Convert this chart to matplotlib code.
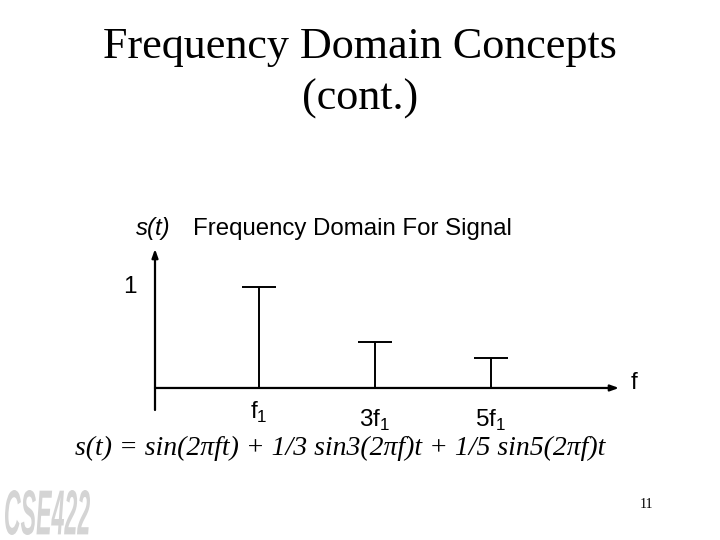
import numpy as np
import matplotlib
matplotlib.use('Agg')
import matplotlib.pyplot as plt
from matplotlib.textpath import TextPath
from matplotlib.patches import PathPatch
from matplotlib.font_manager import FontProperties
from matplotlib.transforms import Affine2D

# Données du spectre
freqs = [1, 3, 5]
amps = [1.0, 0.46, 0.30]
freq_labels = [r'f$_\mathregular{1}$', r'3f$_\mathregular{1}$', r'5f$_\mathregular{1}$']
label_offsets = [-0.24, -0.32, -0.32]

W, H = 720, 540
fig = plt.figure(figsize=(7.2, 5.4), dpi=100)

# Axe du spectre, placé en pixels
x_left, x_right = 155, 619
y_top, y_bot = 249, 410
ax = fig.add_axes([x_left / W, 1 - y_bot / H, (x_right - x_left) / W, (y_bot - y_top) / H])
x0, x1 = -0.793, 1 + (x_right - 259) / 58
y0, y1 = -0.218, 1.376
ax.set_xlim(x0, x1)
ax.set_ylim(y0, y1)
ax.axis('off')

sans = 'Liberation Sans'
serif = 'Liberation Serif'

# Flèches des axes
arrow = dict(arrowstyle='-|>,head_length=0.5,head_width=0.18', color='black', lw=1.6,
             shrinkA=0, shrinkB=0)
ax.annotate('', xy=(x0, y1), xytext=(x0, y0), arrowprops=arrow, annotation_clip=False)
ax.annotate('', xy=(x1, 0), xytext=(x0, 0), arrowprops=arrow, annotation_clip=False)

# Raies
ax.vlines(freqs, 0, amps, color='black', lw=1.4)
ax.hlines(amps, np.array(freqs) - 0.3, np.array(freqs) + 0.3, color='black', lw=1.4)

for f, lab, off in zip(freqs, freq_labels, label_offsets):
    ax.text(f, off, lab, ha='center', va='center', fontsize=17.5, family=sans)
ax.text(x0 - 0.43, 1.0, '1', ha='center', va='center', fontsize=17.5, family=sans)
ax.text(x1 + 0.2, 0.05, 'f', ha='left', va='center', fontsize=17.5, family=sans)

# Titre
fig.text(0.5, 1 - 47 / H, 'Frequency Domain Concepts', ha='center', va='center',
         fontsize=31.8, family=serif)
fig.text(0.5, 1 - 99 / H, '(cont.)', ha='center', va='center', fontsize=31.8, family=serif)

# Sous-titre
fig.text(136 / W, 1 - 229 / H, 's(t)', ha='left', va='center', fontsize=17.3,
         family=sans, style='italic')
fig.text(193 / W, 1 - 229 / H, 'Frequency Domain For Signal', ha='left', va='center',
         fontsize=17.3, family=sans)

# Equation
fig.text(75 / W, 1 - 448 / H, 's(t) = sin(2\u03c0ft) + 1/3 sin3(2\u03c0f)t + 1/5 sin5(2\u03c0f)t',
         ha='left', va='center', fontsize=20, family=serif, style='italic')

# Logo (texte étroit, mis à l'échelle dans une boîte)
logo = TextPath((0, 0), 'CSE422', size=40,
                prop=FontProperties(family=sans, weight='bold', style='italic'))
ext = logo.get_extents()
bx0, by0, bw, bh = 5, H - 535, 85, 45
tr = (Affine2D().translate(-ext.x0, -ext.y0)
      .scale(bw / ext.width, bh / ext.height)
      .translate(bx0, by0))
fig.patches.append(PathPatch(logo, transform=tr, facecolor='#d4d4d4', edgecolor='none',
                             figure=fig))

# Numéro de page
fig.text(646 / W, 1 - 505 / H, '11', ha='center', va='center', fontsize=10, family=serif)

fig.savefig('out.png', dpi=100)
